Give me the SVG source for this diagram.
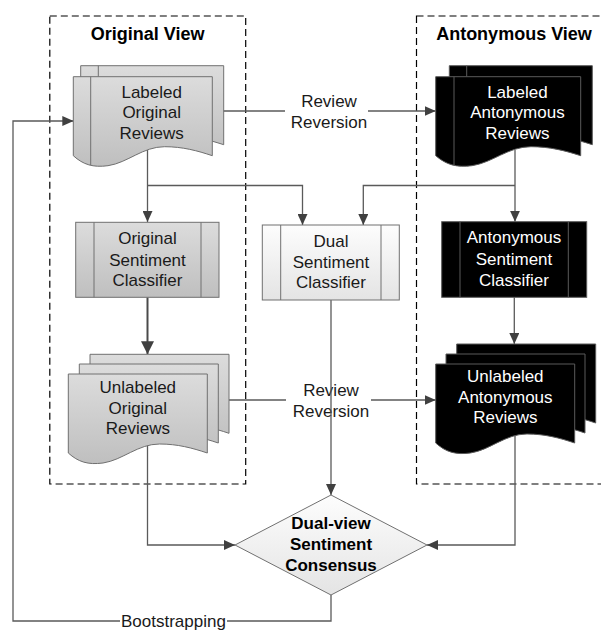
<svg xmlns="http://www.w3.org/2000/svg" width="601" height="631" viewBox="0 0 601 631">
  <defs>
    <linearGradient id="gGray" x1="0" y1="0" x2="0" y2="1">
      <stop offset="0" stop-color="#dcdcdc"/>
      <stop offset="1" stop-color="#bfbfbf"/>
    </linearGradient>
    <linearGradient id="gLight" x1="0" y1="0" x2="0" y2="1">
      <stop offset="0" stop-color="#fdfdfd"/>
      <stop offset="1" stop-color="#e4e4e4"/>
    </linearGradient>
    <marker id="arr" markerUnits="userSpaceOnUse" markerWidth="11" markerHeight="10" refX="11" refY="5" orient="auto">
      <path d="M0,0 L11,5 L0,10 Z" fill="#404040"/>
    </marker>
    <marker id="arrBig" markerUnits="userSpaceOnUse" markerWidth="13" markerHeight="13" refX="13" refY="6.5" orient="auto">
      <path d="M0,0 L13,6.5 L0,13 Z" fill="#404040"/>
    </marker>
  </defs>
  <style>
    .frame { fill: none; stroke: #000; stroke-width: 1.2; stroke-dasharray: 7 4; }
    .title { font-family: "Liberation Sans", Arial, sans-serif; font-size: 18px; font-weight: bold; fill: #000; text-anchor: middle; }
    .lbl { font-family: "Liberation Sans", Arial, sans-serif; font-size: 17px; fill: #1a1a1a; text-anchor: middle; }
    .lblw { font-family: "Liberation Sans", Arial, sans-serif; font-size: 17px; fill: #fff; text-anchor: middle; }
    .bold { font-family: "Liberation Sans", Arial, sans-serif; font-size: 17px; font-weight: bold; fill: #000; text-anchor: middle; }
    .gray { fill: url(#gGray); stroke: #707070; stroke-width: 1; }
    .light { fill: url(#gLight); stroke: #707070; stroke-width: 1; }
    .dark { fill: #000; stroke: #5a5a5a; stroke-width: 1; }
    .inner { stroke: #707070; stroke-width: 1; fill: none; }
    .innerd { stroke: #5a5a5a; stroke-width: 1; fill: none; }
    .line { fill: none; stroke: #5a5a5a; stroke-width: 1.3; }
    .thick { fill: none; stroke: #4a4a4a; stroke-width: 2; }
  </style>

  <!-- view frames -->
  <g id="frames">
    <rect class="frame" x="49.8" y="16" width="195.9" height="468"/>
    <rect class="frame" x="416.5" y="16" width="190" height="468"/>
    <text class="title" x="147.7" y="40">Original View</text>
    <text class="title" x="514" y="40">Antonymous View</text>
  </g>

  <!-- connectors -->
  <g id="connectors">
    <path class="line" d="M223,111 H285"/>
    <path class="line" d="M368,111 H435.7" marker-end="url(#arr)"/>
    <text class="lbl" x="329" y="107">Review</text>
    <text class="lbl" x="329" y="127.5">Reversion</text>

    <path class="line" d="M147.5,150 V222" marker-end="url(#arr)"/>
    <path class="line" d="M147.5,185.5 H302.5 V225" marker-end="url(#arr)"/>
    <path class="line" d="M515,150 V221.7" marker-end="url(#arr)"/>
    <path class="line" d="M515,185.5 H363.3 V225" marker-end="url(#arr)"/>

    <path class="thick" d="M147.5,297.3 V354.3" marker-end="url(#arrBig)"/>
    <path class="line" d="M514.3,297.3 V344" marker-end="url(#arr)"/>

    <path class="line" d="M228,400 H286"/>
    <path class="line" d="M371,400 H435.7" marker-end="url(#arr)"/>
    <text class="lbl" x="331" y="396">Review</text>
    <text class="lbl" x="331" y="416.5">Reversion</text>
    <path class="line" d="M331,300 V495" marker-end="url(#arr)"/>

    <path class="line" d="M147.5,440 V545 H235" marker-end="url(#arr)"/>
    <path class="line" d="M515,430 V545 H427" marker-end="url(#arr)"/>

    <path class="line" d="M331,595 V621 H227"/>
    <path class="line" d="M120,621 H13 V121 H73.3" marker-end="url(#arr)"/>
    <text class="lbl" x="173.4" y="627">Bootstrapping</text>
  </g>

  <!-- labeled original reviews -->
  <g id="labeled-original">
    <path class="gray" d="M80.7,65.7 h143 v79 c-15.3,-5 -30.6,-9 -49,-9 c-22.5,0 -37.8,16 -58.2,19 c-15.3,2 -25.5,-1 -35.8,-10 z"/>
    <line class="inner" x1="98.3" y1="65.7" x2="98.3" y2="76.7"/>
    <path class="gray" d="M73.3,76.7 h139 v79 c-14.9,-5 -29.8,-9 -47.7,-9 c-21.8,0 -36.7,16 -56.6,19 c-14.9,2 -24.8,-1 -34.7,-10 z"/>
    <line class="inner" x1="90.7" y1="76.7" x2="90.7" y2="165"/>
    <text class="lbl" x="151.7" y="97.5">Labeled</text>
    <text class="lbl" x="151.7" y="118">Original</text>
    <text class="lbl" x="151.7" y="138.5">Reviews</text>
  </g>

  <!-- labeled antonymous reviews -->
  <g id="labeled-antonymous">
    <path class="dark" d="M449.3,65.7 h143 v79 c-15.3,-5 -30.6,-9 -49,-9 c-22.5,0 -37.8,16 -58.2,19 c-15.3,2 -25.5,-1 -35.8,-10 z"/>
    <line class="innerd" x1="466.7" y1="65.7" x2="466.7" y2="76.7"/>
    <path class="dark" d="M435.7,76.7 h145 v79 c-15.5,-5 -31,-9 -49.7,-9 c-22.8,0 -38.3,16 -59,19 c-15.5,2 -25.9,-1 -36.3,-10 z"/>
    <line class="innerd" x1="454" y1="76.7" x2="454" y2="165"/>
    <text class="lblw" x="517.4" y="97.5">Labeled</text>
    <text class="lblw" x="517.4" y="118">Antonymous</text>
    <text class="lblw" x="517.4" y="138.5">Reviews</text>
  </g>

  <!-- original sentiment classifier -->
  <g id="original-classifier">
    <rect class="gray" x="75.7" y="222.3" width="143.3" height="75"/>
    <line class="inner" x1="94" y1="222.3" x2="94" y2="297.3"/>
    <line class="inner" x1="201" y1="222.3" x2="201" y2="297.3"/>
    <text class="lbl" x="147.5" y="244.3">Original</text>
    <text class="lbl" x="147.5" y="265.7">Sentiment</text>
    <text class="lbl" x="147.5" y="286">Classifier</text>
  </g>

  <!-- dual sentiment classifier -->
  <g id="dual-classifier">
    <rect class="light" x="262.3" y="225" width="137" height="75"/>
    <line class="inner" x1="280.7" y1="225" x2="280.7" y2="300"/>
    <line class="inner" x1="381" y1="225" x2="381" y2="300"/>
    <text class="lbl" x="331" y="247.3">Dual</text>
    <text class="lbl" x="331" y="267.7">Sentiment</text>
    <text class="lbl" x="331" y="288.3">Classifier</text>
  </g>

  <!-- antonymous sentiment classifier -->
  <g id="antonymous-classifier">
    <rect class="dark" x="441.7" y="221.7" width="145" height="75.6"/>
    <line class="innerd" x1="460" y1="221.7" x2="460" y2="297.3"/>
    <line class="innerd" x1="568.3" y1="221.7" x2="568.3" y2="297.3"/>
    <text class="lblw" x="514" y="243.3">Antonymous</text>
    <text class="lblw" x="514" y="265">Sentiment</text>
    <text class="lblw" x="514" y="286">Classifier</text>
  </g>

  <!-- unlabeled original reviews -->
  <g id="unlabeled-original">
    <path class="gray" d="M90,354.3 h139 v79 c-14.9,-5 -29.8,-9 -47.7,-9 c-21.8,0 -36.7,16 -56.6,19 c-14.9,2 -24.8,-1 -34.7,-10 z"/>
    <path class="gray" d="M79.3,364 h139 v79 c-14.9,-5 -29.8,-9 -47.7,-9 c-21.8,0 -36.7,16 -56.6,19 c-14.9,2 -24.8,-1 -34.7,-10 z"/>
    <path class="gray" d="M68.3,374 h139 v79 c-14.9,-5 -29.8,-9 -47.7,-9 c-21.8,0 -36.7,16 -56.6,19 c-14.9,2 -24.8,-1 -34.7,-10 z"/>
    <text class="lbl" x="137.8" y="393.3">Unlabeled</text>
    <text class="lbl" x="137.8" y="414">Original</text>
    <text class="lbl" x="137.8" y="434.3">Reviews</text>
  </g>

  <!-- unlabeled antonymous reviews -->
  <g id="unlabeled-antonymous">
    <path class="dark" d="M456.7,344 h139 v79 c-14.9,-5 -29.8,-9 -47.7,-9 c-21.8,0 -36.7,16 -56.6,19 c-14.9,2 -24.8,-1 -34.7,-10 z"/>
    <path class="dark" d="M446,354 h139 v79 c-14.9,-5 -29.8,-9 -47.7,-9 c-21.8,0 -36.7,16 -56.6,19 c-14.9,2 -24.8,-1 -34.7,-10 z"/>
    <path class="dark" d="M435.7,364 h139 v79 c-14.9,-5 -29.8,-9 -47.7,-9 c-21.8,0 -36.7,16 -56.6,19 c-14.9,2 -24.8,-1 -34.7,-10 z"/>
    <text class="lblw" x="505.3" y="381.7">Unlabeled</text>
    <text class="lblw" x="505.3" y="403.3">Antonymous</text>
    <text class="lblw" x="505.3" y="423.3">Reviews</text>
  </g>

  <!-- consensus decision -->
  <g id="consensus">
    <path class="light" d="M331,495 L427,545 L331,595 L235,545 Z"/>
    <text class="bold" x="331" y="529.3">Dual-view</text>
    <text class="bold" x="331" y="550">Sentiment</text>
    <text class="bold" x="331" y="570.7">Consensus</text>
  </g>
</svg>
